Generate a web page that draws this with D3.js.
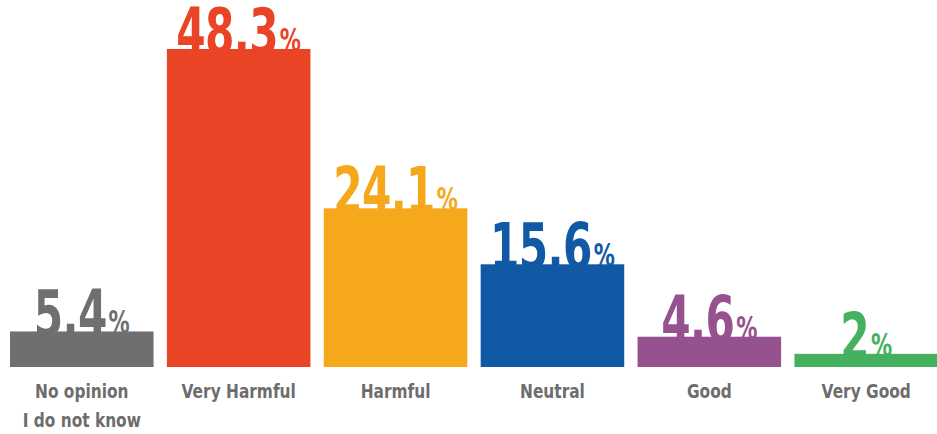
<!DOCTYPE html>
<html>
<head>
<meta charset="utf-8">
<script src="https://cdn.jsdelivr.net/npm/d3@7"></script>
<style>
  html, body { margin: 0; padding: 0; background: #fff; }
  svg { display: block; }
  text { font-family: "DejaVu Sans", sans-serif; font-weight: bold; }
</style>
</head>
<body>
<svg id="chart" width="937" height="434"></svg>
<script>
// Opinion categories, share of respondents (%) and bar colours
const categories = [["No opinion", "I do not know"], ["Very Harmful"], ["Harmful"], ["Neutral"], ["Good"], ["Very Good"]];
const values = [5.4, 48.3, 24.1, 15.6, 4.6, 2];
const colors = ["#6f6f6f", "#e94425", "#f6a81d", "#1259a5", "#96528e", "#45b05f"];

const width = 937, height = 434;
const baseline = 367;
const squeeze = 0.66; // horizontal condensing of the bold face for the values

const svg = d3.select("#chart");

const x = d3.scaleBand()
  .domain(d3.range(values.length))
  .range([10, 938])
  .paddingInner(0.085)
  .paddingOuter(0);

const y = d3.scaleLinear()
  .domain([0, 48.3])
  .range([baseline, 49]);

const fmt = v => String(v).replace(".", ",");
const cx = i => x(i) + x.bandwidth() / 2;

const g = svg.selectAll("g.bar")
  .data(values)
  .join("g")
  .attr("class", "bar");

// Value labels sit behind the bars so the bar top clips the digits
g.append("text")
  .attr("transform", (d, i) => `translate(${cx(i)},${y(d) + 5}) scale(${squeeze},1)`)
  .attr("text-anchor", "middle")
  .attr("fill", (d, i) => colors[i])
  .style("letter-spacing", "-1px")
  .each(function(d) {
    const t = d3.select(this);
    t.append("tspan").attr("font-size", 64).text(fmt(d));
    t.append("tspan").attr("font-size", 32).attr("dx", 3).attr("dy", -3).style("letter-spacing", "0px").text("%");
  });

g.append("rect")
  .attr("x", (d, i) => x(i))
  .attr("width", x.bandwidth())
  .attr("y", d => y(d))
  .attr("height", d => baseline - y(d))
  .attr("fill", (d, i) => colors[i]);

// Category labels
g.append("text")
  .attr("transform", (d, i) => `translate(${cx(i)},398) scale(0.77,1)`)
  .attr("text-anchor", "middle")
  .attr("fill", "#6d6d6d")
  .attr("font-size", 20)
  .each(function(d, i) {
    const t = d3.select(this);
    categories[i].forEach((line, k) => {
      t.append("tspan")
        .attr("x", 0)
        .attr("y", k * 29)
        .text(line);
    });
  });
</script>
</body>
</html>
